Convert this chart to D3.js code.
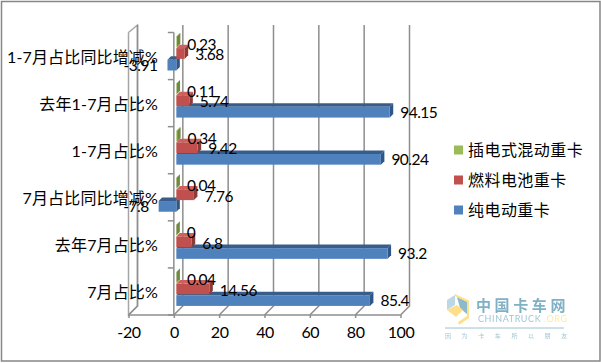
<!DOCTYPE html>
<html>
<head>
<meta charset="utf-8">
<script src="https://cdn.jsdelivr.net/npm/d3@7"></script>
<style>
	html, body { margin: 0; padding: 0; background: #fff; }
	svg { display: block; }
	text { font-family: Lato, "Noto Sans CJK SC", sans-serif; fill: #000; }
</style>
</head>
<body>
<div id="chart"></div>
<script>
// chart values
const categories = ['7月占比%', '去年7月占比%', '7月占比同比增减%', '1-7月占比%', '去年1-7月占比%', '1-7月占比同比增减%']
const seriesNames = ['纯电动重卡', '燃料电池重卡', '插电式混动重卡']
const blueValues = [85.4, 93.2, -7.8, 90.24, 94.15, -3.91]
const redValues = [14.56, 6.8, 7.76, 9.42, 5.74, 3.68]
const greenValues = [0.04, 0, 0.04, 0.34, 0.11, 0.23]
const xTicks = [-20, 0, 20, 40, 60, 80, 100]

const width = 601, height = 363
const wall = 9	// depth of the chart floor
const depth = 3.5	// depth of a bar
const barShift = 2.5
const gridColor = '#8e8e8e'

const colors = {
	'纯电动重卡': {front: '#4f81bd', top: '#385d8a', side: '#2f5688'},
	'燃料电池重卡': {front: '#c0504d', top: '#d0605c', side: '#8c3a38'},
	'插电式混动重卡': {front: '#9bbb59', top: '#8aa64e', side: '#71893f'}
}
const seriesValues = {
	'纯电动重卡': blueValues,
	'燃料电池重卡': redValues,
	'插电式混动重卡': greenValues
}

let svg = d3.select('#chart').append('svg').attr('width', width).attr('height', height)

// outer border
svg.append('rect').attr('x', 1.5).attr('y', 1.5).attr('width', 598.5).attr('height', 359.5)
	.attr('fill', '#fff').attr('stroke', '#868686').attr('stroke-width', 1.5)

let x = d3.scaleLinear().domain([-20, 100]).range([128.5, 400.5])
let y = d3.scaleBand().domain(categories).range([315, 32.5])
// blue sits lowest in each band, green highest
let inner = d3.scaleBand().domain(seriesNames.slice().reverse()).range([4, 38]).paddingInner(0.08)
let labelRow = d3.scalePoint().domain(seriesNames.slice().reverse()).range([11.5, 33])

// left wall and back gridlines
let floorY = y.range()[0], topY = y.range()[1]
svg.append('path')
	.attr('d', d3.line()([[x(-20), topY], [x(-20) + wall, 25], [x(-20) + wall, floorY - wall], [x(-20), floorY], [x(-20), topY]]))
	.attr('fill', 'none').attr('stroke', '#a6a6a6').attr('stroke-width', 1.5)

svg.selectAll('.grid').data(xTicks).enter().append('path')
	.attr('class', 'grid')
	.attr('d', d => d3.line()([[x(d) + wall, 25], [x(d) + wall, floorY - wall], [x(d), floorY]]))
	.attr('fill', 'none').attr('stroke', gridColor).attr('stroke-width', 1.5)

// x axis
let xAxis = svg.append('g').attr('transform', 'translate(0,' + floorY + ')')
	.call(d3.axisBottom(x).tickValues(xTicks).tickSize(3).tickPadding(9).tickFormat(d3.format('d')))
xAxis.selectAll('path, line').attr('stroke', gridColor).attr('stroke-width', 1.5)
xAxis.select('.domain').attr('d', 'M' + x(-20) + ',0H' + x(100))
xAxis.selectAll('text').style('font-size', '16px').style('font-family', 'Lato').style('letter-spacing', '-0.4px')
	.text(d => d < 0 ? '-' + (-d) : d)

// category axis, ticks sit on the band edges
let yAxis = svg.append('g').attr('transform', 'translate(' + x(0) + ',0)')
yAxis.append('line').attr('y1', topY).attr('y2', floorY).attr('stroke', gridColor).attr('stroke-width', 1.5)
yAxis.selectAll('.edge').data(d3.range(categories.length + 1)).enter().append('line')
	.attr('class', 'edge')
	.attr('x1', -6).attr('x2', 0)
	.attr('y1', d => floorY - d * y.step()).attr('y2', d => floorY - d * y.step())
	.attr('stroke', gridColor).attr('stroke-width', 1.5)
svg.selectAll('.cat').data(categories).enter().append('text')
	.attr('class', 'cat')
	.attr('x', 158)
	.attr('y', d => y(d) + y.bandwidth() / 2 + 1)
	.attr('dy', '0.36em')
	.attr('text-anchor', 'end')
	.style('font-size', '16px')
	.style('letter-spacing', '0.15px')
	.text(d => d)

// bars: green first, red last so its top face lies over the blue one
function barFaces(group, name) {
	let bars = group.selectAll('g').data(seriesValues[name].map((v, i) => ({cat: categories[i], value: v})))
		.enter().append('g')
	const h = inner.bandwidth()
	const left = d => x(Math.min(d.value, 0)) + barShift
	const right = d => x(Math.max(d.value, 0)) + barShift
	const top = d => y(d.cat) + inner(name)
	// top face
	bars.append('path')
		.attr('d', d => d3.line()([[left(d), top(d)], [left(d) + depth, top(d) - depth], [right(d) + depth, top(d) - depth], [right(d), top(d)]]) + 'Z')
		.attr('fill', colors[name].top)
	// side face
	bars.append('path')
		.attr('d', d => d3.line()([[right(d), top(d)], [right(d) + depth, top(d) - depth], [right(d) + depth, top(d) + h - depth], [right(d), top(d) + h]]) + 'Z')
		.attr('fill', colors[name].side)
	// front face
	bars.append('rect')
		.attr('x', left)
		.attr('y', top)
		.attr('width', d => right(d) - left(d))
		.attr('height', h)
		.attr('fill', colors[name].front)
}
;['插电式混动重卡', '纯电动重卡', '燃料电池重卡'].forEach(name => barFaces(svg.append('g'), name))

// data labels
seriesNames.forEach(name => {
	svg.append('g').selectAll('text')
		.data(seriesValues[name].map((v, i) => ({cat: categories[i], value: v})))
		.enter().append('text')
		.attr('x', d => d.value < 0 ? x(d.value) + barShift - 10 : x(d.value) + barShift + 10.5)
		.attr('y', d => y(d.cat) + labelRow(name))
		.attr('dy', '0.36em')
		.attr('text-anchor', d => d.value < 0 ? 'end' : 'start')
		.style('font-size', '15.5px')
		.style('letter-spacing', '-0.5px')
		.text(d => d.value)
})

// legend
let legendY = d3.scalePoint().domain(seriesNames.slice().reverse()).range([150, 210])
let legend = svg.append('g').selectAll('g').data(seriesNames).enter().append('g')
	.attr('transform', d => 'translate(454,' + legendY(d) + ')')
legend.append('rect').attr('x', 0).attr('y', -4.5).attr('width', 9).attr('height', 9)
	.attr('fill', d => colors[d].front)
legend.append('text').attr('x', 14).attr('dy', '0.36em')
	.style('font-size', '16px').style('letter-spacing', '0.45px')
	.text(d => d)

// watermark in the corner
let defs = svg.append('defs')
defs.append('filter').attr('id', 'soft').append('feGaussianBlur').attr('stdDeviation', 0.45)
let logo = svg.append('g').attr('transform', 'translate(445,294)').attr('filter', 'url(#soft)')
logo.append('path').attr('d', 'M2,6 L10,1 L10,11 L2,16Z').attr('fill', '#bcd8e6')
logo.append('path').attr('d', 'M12,3 L23,8 L23,21 L15,14Z').attr('fill', '#8db9cd')
logo.append('path').attr('d', 'M10,0 L24,6.5 L24,24 L14,31 L13,28 L22,22 L22,8 L10,2Z').attr('fill', '#ffe08a')
logo.append('path').attr('d', 'M2,16 L12,11 L18,16 L11,23Z').attr('fill', '#ffe08a')
logo.append('text').attr('x', 31).attr('y', 17).text('中国卡车网')
	.style('font-size', '15px').style('letter-spacing', '3.6px').style('fill', '#7fb0c4').style('font-weight', 'bold')
logo.append('text').attr('x', 33).attr('y', 28).text('CHINATRUCK')
	.style('font-size', '9px').style('letter-spacing', '0.6px').style('fill', '#a4c6d3')
logo.append('text').attr('x', 99).attr('y', 28).text('.ORG')
	.style('font-size', '9px').style('letter-spacing', '0.6px').style('fill', '#ffe9a8')
logo.append('line').attr('x1', 0).attr('x2', 119).attr('y1', 34).attr('y2', 34).attr('stroke', '#9cc2d0')
logo.append('text').attr('x', 0).attr('y', 44).text('因为卡车所以朋友')
	.style('font-size', '6px').style('letter-spacing', '10.6px').style('fill', '#a4c6d3')
</script>
</body>
</html>
